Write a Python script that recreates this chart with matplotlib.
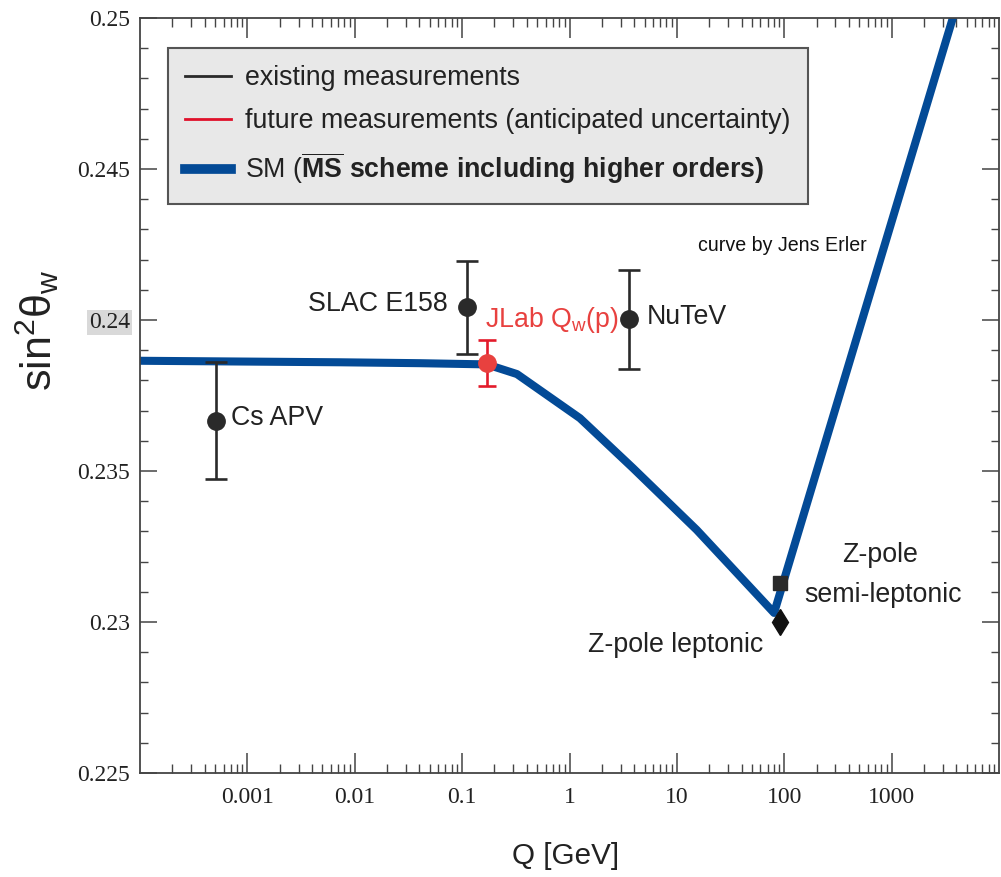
import matplotlib
matplotlib.use('Agg')
import matplotlib.pyplot as plt
from matplotlib import font_manager as fm
from matplotlib.lines import Line2D
from matplotlib.ticker import LogLocator, MultipleLocator, FuncFormatter, NullFormatter

# ---------------- data ----------------
curve_q = [1e-4, 0.0073, 0.0405, 0.17, 0.324, 1.25, 3.89, 15.3, 80.4, 3715, 1e4]
curve_s = [0.23865, 0.2386, 0.23857, 0.23853, 0.23821, 0.23675, 0.2351, 0.23305, 0.2303, 0.25, 0.2552]

meas_names = ["Cs APV", "SLAC E158", "NuTeV"]
meas_q = [5.1e-4, 0.110, 3.6]
meas_s = [0.23667, 0.24042, 0.24002]
meas_err = [0.00195, 0.00155, 0.00165]

future_name = r"JLab $\mathregular{Q_w}$(p)"
future_q = [0.170]
future_s = [0.23858]
future_err = [0.00076]

zpole_q = [91.19]
zpole_semi_s = [0.2313]
zpole_lep_s = [0.2300]

xtick_vals = [1e-3, 1e-2, 1e-1, 1, 10, 100, 1000]
xtick_labels = ["0.001", "0.01", "0.1", "1", "10", "100", "1000"]
ytick_vals = [0.225, 0.23, 0.235, 0.24, 0.245, 0.25]

legend_labels = ["existing measurements",
                 "future measurements (anticipated uncertainty)",
                 r"SM ($\mathbf{\overline{MS}}$ $\mathbf{scheme\ including\ higher\ orders)}$"]

# ---------------- fonts ----------------
names = {f.name for f in fm.fontManager.ttflist}
NARROW = 'Liberation Sans Narrow' in names
SANS = 'Liberation Sans Narrow' if NARROW else 'Liberation Sans'
k = 1.0 if NARROW else 0.82
plt.rcParams['mathtext.fontset'] = 'custom'
plt.rcParams['mathtext.rm'] = SANS
plt.rcParams['mathtext.it'] = SANS + ':italic'
plt.rcParams['mathtext.bf'] = SANS + ':bold'

BLUE = '#034a96'
DARK = '#2a2a2a'
RED = '#e8413f'
REDBAR = '#e31b2b'
TXT = '#222222'

fig = plt.figure(figsize=(10.01, 8.77), dpi=100)
fig.patch.set_facecolor('white')
ax = fig.add_axes([140 / 1001, 104 / 877, 859 / 1001, 755 / 877])

ax.set_xscale('log')
ax.set_xlim(1e-4, 1e4)
ax.set_ylim(0.225, 0.25)

# SM curve
ax.plot(curve_q, curve_s, color=BLUE, lw=5.8, solid_joinstyle='round',
        solid_capstyle='butt', zorder=2)

# existing measurements
ax.errorbar(meas_q, meas_s, yerr=meas_err, fmt='o', color=DARK, ms=12.5,
            elinewidth=1.9, capsize=8, capthick=1.9, zorder=4)
# future
ax.errorbar(future_q, future_s, yerr=future_err, fmt='o', color=REDBAR,
            mfc=RED, mec=RED, ms=12.5, elinewidth=1.9, capsize=6.5,
            capthick=1.9, zorder=4)
# Z pole
ax.plot(zpole_q, zpole_semi_s, 's', color=DARK, ms=9.5, zorder=5)
ax.plot(zpole_q, zpole_lep_s, 'd', color='#111111', ms=13, zorder=5)

# labels (axes-fraction positions)
fs = 23.5 * k
tk = dict(family=SANS, fontsize=fs, color=TXT, transform=ax.transAxes)
ax.text(0.106, 0.470, meas_names[0], ha='left', va='center', **tk)
ax.text(0.3586, 0.621, meas_names[1], ha='right', va='center', **tk)
ax.text(0.590, 0.604, meas_names[2], ha='left', va='center', **tk)
ax.text(0.4016, 0.600, future_name, ha='left', va='center', family=SANS,
        fontsize=fs, color=RED, transform=ax.transAxes)
ax.text(0.6496, 0.699, "curve by Jens Erler", ha='left', va='center',
        family=SANS, fontsize=17.3 * k, color='#111111', transform=ax.transAxes)
ax.text(0.624, 0.1695, "Z-pole leptonic", ha='center', va='center', **tk)
ax.text(0.8615, 0.2887, "Z-pole", ha='center', va='center', **tk)
ax.text(0.865, 0.2358, "semi-leptonic", ha='center', va='center', **tk)

# ticks
ax.set_xticks(xtick_vals)
ax.set_xticklabels(xtick_labels)
ax.xaxis.set_minor_locator(LogLocator(base=10, subs=[2, 3, 4, 5, 6, 7, 8, 9], numticks=20))
ax.xaxis.set_minor_formatter(NullFormatter())
ax.set_yticks(ytick_vals)
ax.yaxis.set_major_formatter(FuncFormatter(lambda v, p: '%g' % round(v, 4)))
ax.yaxis.set_minor_locator(MultipleLocator(0.001))

ax.tick_params(axis='both', which='both', direction='in', top=True, right=True,
               colors='#444444', labelcolor=TXT)
ax.tick_params(axis='x', which='major', length=14.5, width=1.1, pad=10)
ax.tick_params(axis='x', which='minor', length=6.5, width=1.0)
ax.tick_params(axis='y', which='major', length=12, width=1.1, pad=7)
ax.tick_params(axis='y', which='minor', length=6, width=1.0)
for lbl in ax.get_xticklabels() + ax.get_yticklabels():
    lbl.set_family('Liberation Serif')
    lbl.set_fontsize(17)
for lbl in ax.get_yticklabels():
    if lbl.get_text() == '0.24':
        lbl.set_bbox(dict(facecolor='#d9d9d9', edgecolor='none', pad=1.5))

for sp in ax.spines.values():
    sp.set_color('#444444')
    sp.set_linewidth(1.3)

# axis labels
ax.set_xlabel('Q [GeV]', family=SANS, fontsize=26 * k, color=TXT, va='center')
ax.xaxis.set_label_coords(0.495, -0.110)
ax.set_ylabel(r'$\mathregular{sin^2\theta_w}$', family='Liberation Sans', fontsize=31,
              color=TXT, va='center', ha='center')
ax.yaxis.set_label_coords(-0.119, 0.587)

# legend
handles = [Line2D([], [], color=DARK, lw=2.0),
           Line2D([], [], color='#e0102a', lw=2.0),
           Line2D([], [], color=BLUE, lw=7.0)]
leg = ax.legend(handles, legend_labels, loc='upper left',
                bbox_to_anchor=(0.0326, 0.9603), borderaxespad=0,
                prop={'family': SANS, 'size': fs}, handlelength=1.72,
                handletextpad=0.5, labelspacing=0.62, borderpad=0.65,
                frameon=True, fancybox=False, facecolor='#e8e8e8',
                edgecolor='#555555', framealpha=1)
leg.get_frame().set_linewidth(1.5)
for t in leg.get_texts():
    t.set_color(TXT)

fig.savefig('out.png', dpi=100)
